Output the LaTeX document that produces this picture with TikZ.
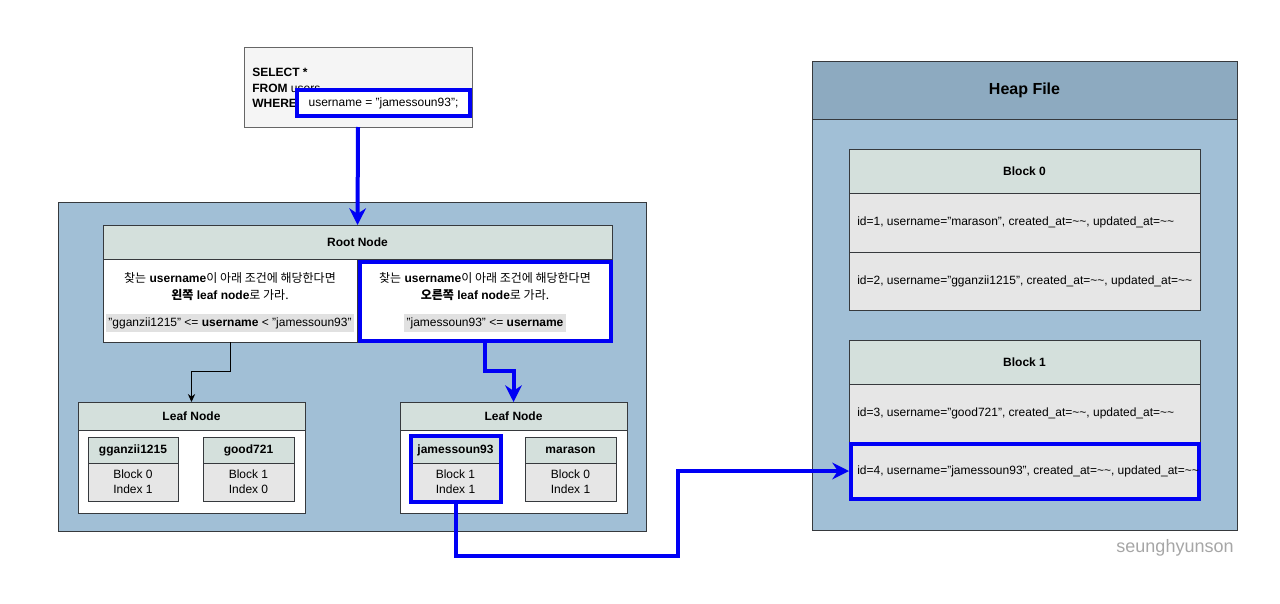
\documentclass[tikz,border=0pt]{standalone}
\usepackage{fontspec}
\setmainfont{Liberation Sans}
\newfontfamily\kr{Noto Sans CJK KR}
\usetikzlibrary{arrows.meta,positioning,fit}
\definecolor{Pane}{HTML}{A1BFD6}
\definecolor{PaneHead}{HTML}{8DAAC0}
\definecolor{Head}{HTML}{D4E0DC}
\definecolor{Cell}{HTML}{E6E6E6}
\definecolor{Cond}{HTML}{E1E1E1}
\definecolor{Query}{HTML}{F5F5F5}
\definecolor{QueryEdge}{HTML}{666666}
\definecolor{Edge}{HTML}{36393D}
\definecolor{Hit}{HTML}{0000F5}
\newcommand{\kor}[1]{{\kr #1}}

\begin{document}
\begin{tikzpicture}[
  x=0.75pt,y=-0.75pt,font=\fontsize{9pt}{11pt}\selectfont,
  frame/.style={draw=Edge,line width=.75pt,inner sep=0pt,outer sep=0pt},
  query/.style={frame,draw=QueryEdge,fill=Query},
  pane/.style={frame,fill=Pane},
  head/.style={frame,fill=Head,label={[font=\fontsize{9pt}{11pt}\selectfont\bfseries]center:#1}},
  bighead/.style={frame,fill=PaneHead,label={[font=\fontsize{12pt}{14pt}\selectfont\bfseries]center:#1}},
  blank/.style={frame,fill=white},
  cell/.style={frame,fill=Cell,label={[align=center,font=\fontsize{9pt}{11pt}\selectfont]center:#1}},
  row/.style={frame,fill=Cell},
  hit/.style={draw=Hit,line width=3pt,inner sep=0pt,outer sep=0pt},
  cond/.style={fill=Cond,inner xsep=2pt,inner ysep=2pt,text height=7pt,text depth=2pt},
  note/.style={align=center,font=\fontsize{9pt}{12.75pt}\selectfont},
  rowtext/.style={inner sep=0pt,text height=6.5pt,text depth=1.5pt},
  flow/.style={->,line width=.75pt,draw=black,>={Stealth[length=6pt,width=5.5pt]}},
  hflow/.style={->,line width=3pt,draw=Hit,>={Stealth[length=12.5pt,width=12.5pt]}}
]
\useasboundingbox (0,0) rectangle (1280,603);
% query
\node[query,fit={(244,47) (472,127)}] (sql) {};
\node[anchor=north west,align=left,inner sep=0pt,font=\fontsize{9pt}{11.6pt}\selectfont] (sqltext) at (252,68)
  {\textbf{SELECT *}\\\textbf{FROM} users\\\textbf{WHERE}};
\node[hit,fill=white,fit={(297,90) (470,116)},label={center:username = "jamessoun93";}] (where) {};
% index
\node[pane,fit={(58,202) (646,531)}] (index) {};
\node[head=Root Node,fit={(103,225) (612,259)}] (roothead) {};
\node[blank,fit={(103,259) (357,342)}] (rootleft) {};
\node[blank,fit={(357,259) (612,342)}] (rootright) {};
\node[hit,fit={(359.5,261.5) (610.5,341)}] (righthit) {};
\node[note] (lefttext) at (230,287) {\kor{찾는} \textbf{username}\kor{이 아래 조건에 해당한다면}\\
  \textbf{\kor{왼쪽} leaf node}\kor{로 가라.}};
\node[cond] (leftcond) at (230,323) {"gganzii1215" <= \textbf{username} < "jamessoun93"};
\node[note] (righttext) at (485,287) {\kor{찾는} \textbf{username}\kor{이 아래 조건에 해당한다면}\\
  \textbf{\kor{오른쪽} leaf node}\kor{로 가라.}};
\node[cond] (rightcond) at (485,323) {"jamessoun93" <= \textbf{username}};
% leaves
\node[head=Leaf Node,fit={(78,402) (305,430)}] (leafL) {};
\node[blank,fit={(78,430) (305,513)}] (leafLbody) {};
\node[head=Leaf Node,fit={(400,402) (627,430)}] (leafR) {};
\node[blank,fit={(400,430) (627,513)}] (leafRbody) {};
\node[head=gganzii1215,fit={(88,437) (178,463)}] (keyA) {};
\node[cell={Block 0\\Index 1},fit={(88,463) (178,501)}] (keyAbody) {};
\node[head=good721,fit={(203,437) (294,463)}] (keyB) {};
\node[cell={Block 1\\Index 0},fit={(203,463) (294,501)}] (keyBbody) {};
\node[head=jamessoun93,fit={(411,437) (500,463)}] (keyC) {};
\node[cell={Block 1\\Index 1},fit={(411,463) (500,501)}] (keyCbody) {};
\node[hit,fit={(410.5,435.5) (500.5,502)}] (keyhit) {};
\node[head=marason,fit={(525,437) (616,463)}] (keyD) {};
\node[cell={Block 0\\Index 1},fit={(525,463) (616,501)}] (keyDbody) {};
% heap file
\node[pane,fit={(812,119) (1237,530)}] (heap) {};
\node[bighead=Heap File,fit={(812,61) (1237,119)}] (heaphead) {};
\node[head=Block 0,fit={(849,149) (1200,193)}] (blockA) {};
\node[row,fit={(849,193) (1200,252)}] (rec1) {};
\node[row,fit={(849,252) (1200,310)}] (rec2) {};
\node[head=Block 1,fit={(849,340) (1200,384)}] (blockB) {};
\node[row,fit={(849,384) (1200,442)}] (rec3) {};
\node[row,fit={(849,442) (1200,500)}] (rec4) {};
\node[hit,fit={(850.5,444) (1198.5,499)}] (rechit) {};
\node[rowtext,right=6pt of rec1.west] (rec1text) {id=1, username="marason", created\_at=\textasciitilde\textasciitilde, updated\_at=\textasciitilde\textasciitilde};
\node[rowtext,right=6pt of rec2.west] (rec2text) {id=2, username="gganzii1215", created\_at=\textasciitilde\textasciitilde, updated\_at=\textasciitilde\textasciitilde};
\node[rowtext,right=6pt of rec3.west] (rec3text) {id=3, username="good721", created\_at=\textasciitilde\textasciitilde, updated\_at=\textasciitilde\textasciitilde};
\node[rowtext,right=6pt of rec4.west] (rec4text) {id=4, username="jamessoun93", created\_at=\textasciitilde\textasciitilde, updated\_at=\textasciitilde\textasciitilde};
\node[text=black!35,font=\fontsize{13.5pt}{16pt}\selectfont] (sign) at (1175,548) {seunghyunson};
% connectors
\coordinate (turn) at (678,556);
\draw[hflow] (sql.south) -- (roothead.north);
\draw[flow] (rootleft.south) -- ++(0,29) -| (leafL.north);
\draw[hflow] (rootright.south) -- ++(0,29) -| (leafR.north);
\draw[hflow] (keyhit.south) |- (turn) |- (rec4.west);
\end{tikzpicture}
\end{document}
